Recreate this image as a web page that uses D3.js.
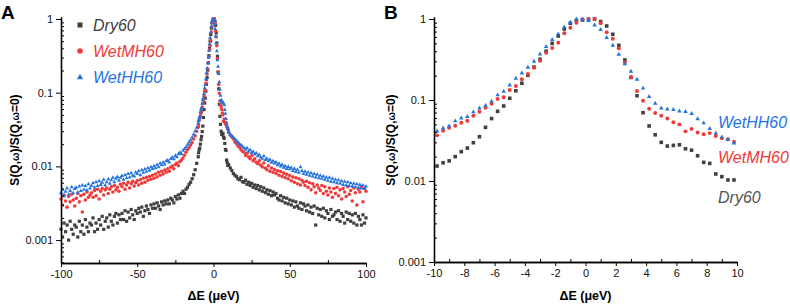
<!DOCTYPE html>
<html><head><meta charset="utf-8">
<script src="https://cdn.jsdelivr.net/npm/d3@7"></script>
<style>body{margin:0;background:#fff}svg{display:block}text{font-family:Arial,"Liberation Sans",sans-serif}</style>
</head><body><svg id="c" width="790" height="304"></svg>
<script>
// ---------- data ----------
const seriesNames = ["Dry60", "WetMH60", "WetHH60"];
// central region (panel B), energy grid in µeV
const xCenter = d3.range(-9.8, 9.81, 0.4).map(v => +v.toFixed(1));
const dryCenter = [0.0153,0.0168,0.0177,0.020,0.023,0.0255,0.0297,0.0352,0.046,0.059,0.0725,0.0843,0.105,0.130,0.161,0.202,0.255,0.318,0.40,0.50,0.617,0.753,0.885,0.96,0.97,
  0.99,1.0,0.93,0.82,0.647,0.473,0.312,0.19,0.113,0.0697,0.0478,0.0372,0.030,0.027,0.0275,0.028,0.025,0.024,0.0205,0.017,0.0165,0.0122,0.0113,0.0103,0.0103];
const wetMHCenter = [0.0366,0.0418,0.0455,0.0482,0.0525,0.0556,0.064,0.0718,0.0804,0.090,0.103,0.108,0.133,0.149,0.18,0.209,0.25,0.306,0.384,0.438,0.51,0.665,0.78,0.90,0.99,
  1.0,1.0,0.885,0.685,0.571,0.434,0.29,0.192,0.129,0.098,0.078,0.069,0.064,0.059,0.053,0.050,0.041,0.044,0.0397,0.0377,0.039,0.036,0.0336,0.0327,0.0306];
const wetHHCenter = [0.0418,0.0455,0.0482,0.0556,0.0605,0.063,0.0718,0.0804,0.086,0.0972,0.1164,0.129,0.1545,0.187,0.217,0.255,0.303,0.373,0.46,0.561,0.659,0.80,0.918,1.0,1.0,
  0.963,0.85,0.745,0.594,0.477,0.37,0.281,0.228,0.182,0.141,0.111,0.092,0.080,0.078,0.0767,0.0738,0.0725,0.0685,0.059,0.0525,0.0447,0.039,0.0352,0.0327,0.0297];
// wings (panel A), energy grid -100..-10 and 10..100 µeV, 1 µeV step
const xWingLeft = d3.range(-100, -9, 1);
const xWingRight = d3.range(10, 101, 1);
const dryLeft = [0.0014,0.0011,0.0017,0.0013,0.0016,0.0010,0.0018,0.0014,0.0012,0.0016,
  0.0015,0.0011,0.0018,0.0013,0.0016,0.0012,0.0019,0.0015,0.0013,0.0017,
  0.0016,0.0020,0.0013,0.0017,0.0014,0.0019,0.0016,0.0021,0.0014,0.0018,
  0.0020,0.0015,0.0022,0.0018,0.0016,0.0021,0.0023,0.0017,0.0022,0.0019,
  0.0023,0.0019,0.0025,0.0018,0.0024,0.0020,0.0026,0.0022,0.0019,0.0025,
  0.0023,0.0027,0.0024,0.0028,0.0021,0.0025,0.0029,0.0026,0.0023,0.0030,
  0.0027,0.0031,0.0027,0.0032,0.0029,0.0026,0.0033,0.0030,0.0034,0.0031,
  0.0035,0.0031,0.0037,0.0035,0.0032,0.0039,0.0036,0.0041,0.0037,0.0043,
  0.0046,0.0043,0.0049,0.0052,0.0057,0.0061,0.0068,0.0077,0.0090,0.0110,0.0135];
const dryRight = [0.0105,0.0095,0.0088,0.0080,0.0076,0.0073,0.0068,0.0066,0.0071,0.0062,
  0.0061,0.0065,0.0057,0.0061,0.0055,0.0059,0.0052,0.0056,0.0050,0.0055,
  0.0048,0.0053,0.0046,0.0051,0.0044,0.0048,0.0042,0.0047,0.0040,0.0045,
  0.0041,0.0043,0.0037,0.0035,0.0040,0.0034,0.0038,0.0032,0.0037,0.0031,
  0.0035,0.0030,0.0034,0.0028,0.0033,0.0029,0.0027,0.0032,0.0026,0.0031,
  0.0029,0.0025,0.0030,0.0024,0.0028,0.0023,0.0029,0.0016,0.0027,0.0022,
  0.0026,0.0021,0.0027,0.0020,0.0025,0.0023,0.0019,0.0026,0.0021,0.0022,
  0.0024,0.0019,0.0025,0.0018,0.0023,0.0021,0.0017,0.0024,0.0019,0.0023,
  0.0018,0.0022,0.0017,0.0023,0.0016,0.0021,0.0019,0.0016,0.0022,0.0017,0.0020];
const wetMHLeft = [0.0036,0.0030,0.0041,0.0034,0.0028,0.0039,0.0033,0.0042,0.0035,0.0029,
  0.0037,0.0043,0.0033,0.0040,0.0024,0.0042,0.0035,0.0045,0.0038,0.0041,
  0.0044,0.0038,0.0047,0.0040,0.0049,0.0036,0.0046,0.0050,0.0041,0.0048,
  0.0051,0.0043,0.0049,0.0053,0.0045,0.0055,0.0048,0.0052,0.0046,0.0057,
  0.0053,0.0059,0.0049,0.0056,0.0061,0.0051,0.0058,0.0063,0.0054,0.0060,
  0.0064,0.0056,0.0066,0.0059,0.0069,0.0061,0.0071,0.0065,0.0073,0.0067,
  0.0076,0.0069,0.0079,0.0072,0.0083,0.0076,0.0086,0.0079,0.0089,0.0083,
  0.0093,0.0086,0.0097,0.0101,0.0093,0.0106,0.0111,0.0102,0.0116,0.0122,
  0.0130,0.0142,0.0155,0.0168,0.0180,0.0195,0.0210,0.0235,0.0260,0.0300,0.0340];
const wetMHRight = [0.0290,0.0265,0.0250,0.0235,0.0215,0.0205,0.0190,0.0182,0.0170,0.0160,
  0.0156,0.0141,0.0151,0.0134,0.0127,0.0139,0.0119,0.0127,0.0114,0.0109,
  0.0119,0.0104,0.0098,0.0111,0.0095,0.0090,0.0102,0.0086,0.0095,0.0083,
  0.0091,0.0080,0.0087,0.0076,0.0085,0.0073,0.0081,0.0070,0.0078,0.0068,
  0.0075,0.0064,0.0072,0.0061,0.0070,0.0058,0.0068,0.0056,0.0065,0.0061,
  0.0055,0.0063,0.0052,0.0060,0.0048,0.0058,0.0053,0.0044,0.0056,0.0051,
  0.0047,0.0055,0.0043,0.0053,0.0046,0.0041,0.0051,0.0045,0.0038,0.0050,
  0.0043,0.0052,0.0040,0.0048,0.0036,0.0050,0.0045,0.0039,0.0053,0.0042,
  0.0047,0.0034,0.0051,0.0044,0.0030,0.0049,0.0045,0.0053,0.0033,0.0050,0.0046];
const wetHHLeft = [0.0044,0.0049,0.0040,0.0046,0.0051,0.0042,0.0047,0.0053,0.0044,0.0050,
  0.0052,0.0045,0.0054,0.0047,0.0056,0.0049,0.0055,0.0048,0.0058,0.0051,
  0.0055,0.0060,0.0052,0.0062,0.0055,0.0064,0.0057,0.0061,0.0067,0.0056,
  0.0062,0.0068,0.0059,0.0066,0.0071,0.0062,0.0069,0.0073,0.0065,0.0071,
  0.0075,0.0067,0.0077,0.0070,0.0080,0.0072,0.0082,0.0076,0.0074,0.0084,
  0.0080,0.0087,0.0077,0.0090,0.0083,0.0093,0.0086,0.0096,0.0089,0.0099,
  0.0094,0.0102,0.0096,0.0106,0.0099,0.0111,0.0105,0.0115,0.0108,0.0119,
  0.0122,0.0115,0.0128,0.0134,0.0127,0.0141,0.0135,0.0149,0.0156,0.0150,
  0.0165,0.0175,0.0185,0.0200,0.0215,0.0230,0.0250,0.0275,0.0305,0.0340,0.0390];
const wetHHRight = [0.0290,0.0275,0.0262,0.0250,0.0238,0.0225,0.0215,0.0205,0.0196,0.0188,
  0.0181,0.0171,0.0179,0.0161,0.0169,0.0154,0.0161,0.0147,0.0153,0.0139,
  0.0146,0.0134,0.0129,0.0139,0.0124,0.0129,0.0119,0.0125,0.0114,0.0119,
  0.0111,0.0115,0.0105,0.0110,0.0101,0.0106,0.0097,0.0102,0.0094,0.0100,
  0.0093,0.0097,0.0088,0.0094,0.0085,0.0091,0.0083,0.0099,0.0088,0.0080,
  0.0086,0.0078,0.0084,0.0076,0.0082,0.0074,0.0080,0.0072,0.0078,0.0070,
  0.0076,0.0069,0.0074,0.0067,0.0072,0.0065,0.0071,0.0063,0.0069,0.0062,
  0.0067,0.0060,0.0066,0.0059,0.0064,0.0057,0.0063,0.0056,0.0062,0.0055,
  0.0060,0.0054,0.0059,0.0053,0.0058,0.0052,0.0057,0.0051,0.0056,0.0050,0.0054];
const yTicks = [1, 0.1, 0.01, 0.001];
const xTicksA = [-100, -50, 0, 50, 100];
const xMinorA = [-75, -25, 25, 75];
const xTicksB = [-10, -8, -6, -4, -2, 0, 2, 4, 6, 8, 10];
const xMinorB = [-9, -7, -5, -3, -1, 1, 3, 5, 7, 9];

const colors = {Dry60: "#404040", WetMH60: "#f03a3a", WetHH60: "#2474e0"};

// ---------- build ----------
const svg = d3.select("#c");
const zip = (xs, ys) => xs.map((x, i) => ({x, y: ys[i]}));
const dataB = {
  Dry60: zip(xCenter, dryCenter),
  WetMH60: zip(xCenter, wetMHCenter),
  WetHH60: zip(xCenter, wetHHCenter)
};
const dataA = {
  Dry60: zip(xWingLeft, dryLeft).concat(dataB.Dry60, zip(xWingRight, dryRight)),
  WetMH60: zip(xWingLeft, wetMHLeft).concat(dataB.WetMH60, zip(xWingRight, wetMHRight)),
  WetHH60: zip(xWingLeft, wetHHLeft).concat(dataB.WetHH60, zip(xWingRight, wetHHRight))
};

function minorLog(lo, hi) {
  const out = [];
  for (let e = -4; e <= 1; e++) for (let m = 2; m <= 9; m++) {
    const v = m * Math.pow(10, e);
    if (v > lo && v < hi) out.push(v);
  }
  return out;
}

function marker(g, name, cx, cy, s) {
  const c = colors[name];
  if (name === "Dry60") {
    g.append("rect").attr("x", cx - s/2).attr("y", cy - s/2).attr("width", s).attr("height", s).attr("fill", c);
  } else if (name === "WetMH60") {
    g.append("circle").attr("cx", cx).attr("cy", cy).attr("r", s*0.55).attr("fill", c);
  } else {
    const h = s * 1.05, w = s * 1.25;
    g.append("path").attr("d", `M${cx},${cy - h*0.6}L${cx + w/2},${cy + h*0.45}L${cx - w/2},${cy + h*0.45}Z`).attr("fill", c);
  }
}

function panel(opts) {
  const x = d3.scaleLinear().domain(opts.xDomain).range([opts.left, opts.right]);
  const y = d3.scaleLog().domain(opts.yDomain).range([opts.bottom, opts.top]);
  const g = svg.append("g");
  const clipId = "clip" + opts.id;
  svg.append("clipPath").attr("id", clipId).append("rect")
    .attr("x", opts.left - 3).attr("y", opts.top - 4).attr("width", opts.right - opts.left + 6).attr("height", opts.bottom - opts.top + 6);
  const pts = g.append("g").attr("clip-path", `url(#${clipId})`);
  seriesNames.forEach(name => {
    const sg = pts.append("g");
    opts.data[name].forEach(d => marker(sg, name, x(d.x), y(d.y), opts.ms));
  });
  // axes
  g.append("g").attr("transform", `translate(${opts.left},0)`)
    .call(d3.axisLeft(y).tickValues(yTicks).tickSize(5).tickSizeOuter(0).tickPadding(3).tickFormat(d => String(d)));
  g.append("g").attr("transform", `translate(${opts.left},0)`)
    .call(d3.axisLeft(y).tickValues(minorLog(opts.yDomain[0], opts.yDomain[1])).tickSize(-3).tickSizeOuter(0).tickFormat(""));
  g.append("g").attr("transform", `translate(0,${opts.bottom})`)
    .call(d3.axisBottom(x).tickValues(opts.xTicks).tickSize(4).tickSizeOuter(0).tickPadding(3).tickFormat(d => String(d)));
  g.append("g").attr("transform", `translate(0,${opts.bottom})`)
    .call(d3.axisBottom(x).tickValues(opts.xMinor).tickSize(-3).tickSizeOuter(0).tickFormat(""));
  g.selectAll(".domain").attr("stroke", "#000").attr("stroke-width", 1.3);
  g.selectAll(".tick line").attr("stroke", "#000").attr("stroke-width", 1);
  g.selectAll(".tick text").attr("font-size", 11).attr("fill", "#111").attr("font-family", "Arial, 'Liberation Sans', sans-serif");
  // titles
  g.append("text").attr("x", (opts.left + opts.right)/2).attr("y", 300).attr("text-anchor", "middle")
    .attr("font-size", 12.5).attr("font-weight", "bold").text("ΔE (μeV)");
  const yt = g.append("text").attr("transform", `translate(${opts.yTitleX},${opts.yTitleY}) rotate(-90)`)
    .attr("text-anchor", "middle").attr("font-size", 12).attr("font-weight", "bold");
  yt.append("tspan").text("S(Q,");
  yt.append("tspan").attr("font-size", 10).text("ω");
  yt.append("tspan").text(")/S(Q,");
  yt.append("tspan").attr("font-size", 10).text("ω");
  yt.append("tspan").text("=0)");
  g.append("text").attr("x", opts.letterX).attr("y", 19).attr("font-size", 19).attr("font-weight", "bold").text(opts.letter);
  return {x, y, g};
}

panel({id: "A", letter: "A", letterX: 1, left: 61, right: 366, top: 17, bottom: 263,
  xDomain: [-100, 100], yDomain: [Math.pow(10, -3.311), Math.pow(10, 0.027)],
  xTicks: xTicksA, xMinor: xMinorA, data: dataA, ms: 3.2, yTitleX: 19, yTitleY: 140});
panel({id: "B", letter: "B", letterX: 384, left: 434, right: 737, top: 17, bottom: 262,
  xDomain: [-10, 10], yDomain: [0.001, Math.pow(10, 2/81)],
  xTicks: xTicksB, xMinor: xMinorB, data: dataB, ms: 3.6, yTitleX: 395, yTitleY: 140});

// legend A
const leg = svg.append("g");
const legY = [25, 51, 77];
seriesNames.forEach((name, i) => {
  marker(leg, name, 80, legY[i], 5);
  leg.append("text").attr("x", 93).attr("y", legY[i] + 5.5).attr("font-size", 16).attr("font-style", "italic")
    .attr("fill", colors[name]).text(name);
});
// labels B
const labB = [{n: "WetHH60", y: 128}, {n: "WetMH60", y: 163}, {n: "Dry60", y: 203}];
labB.forEach(d => {
  svg.append("text").attr("x", 718).attr("y", d.y).attr("font-size", 16).attr("font-style", "italic")
    .attr("fill", d.n === "Dry60" ? "#555" : colors[d.n]).text(d.n);
});
</script></body></html>
